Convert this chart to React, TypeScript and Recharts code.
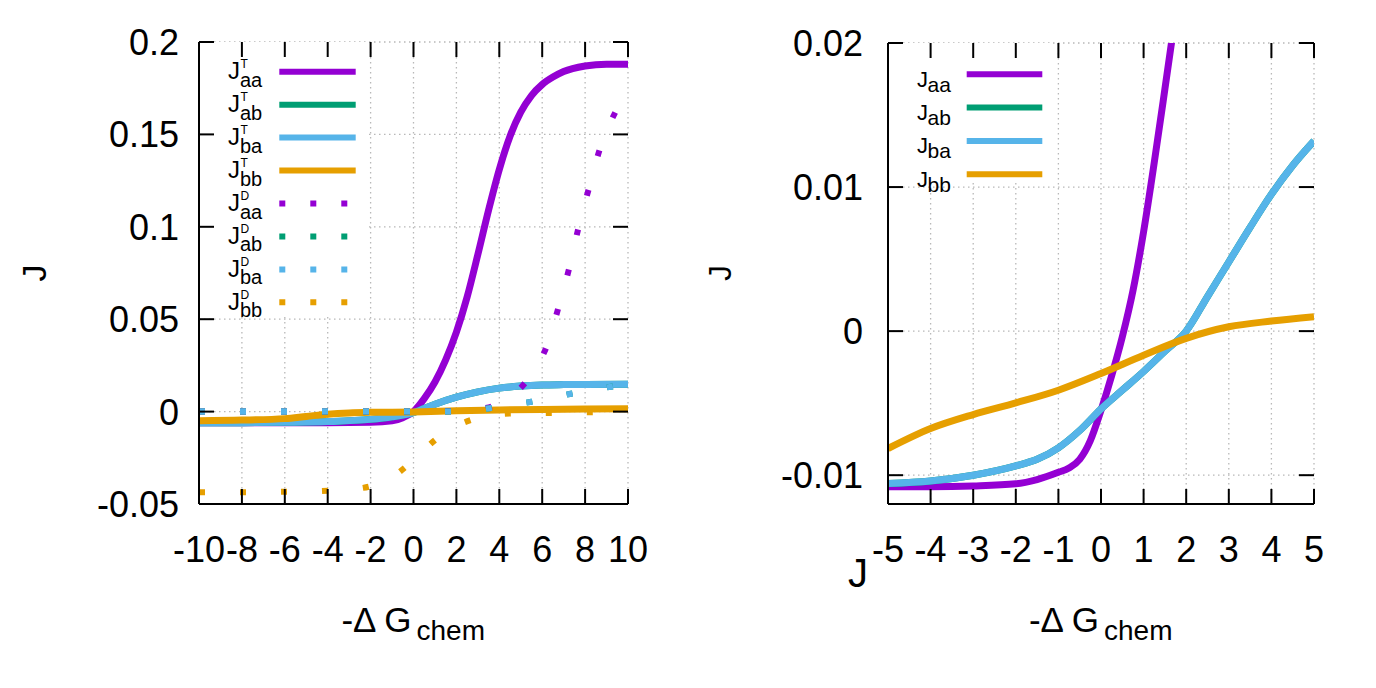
import React from "react";
import { LineChart, Line, XAxis, YAxis, CartesianGrid, ReferenceArea, ReferenceLine } from "recharts";

const FONT = '"Liberation Sans", Arial, Helvetica, sans-serif';
const PURPLE = "#9400d3";
const GREEN = "#009e73";
const BLUE = "#56b4e9";
const ORANGE = "#e69f00";

// ---------- left panel: total (T) and diffusive (D) fluxes
const leftXTicks = [-10, -8, -6, -4, -2, 0, 2, 4, 6, 8, 10];
const leftYTicks = [-0.05, 0, 0.05, 0.1, 0.15, 0.2];

const jaaTx = [-10, -8, -6, -4, -2, -1, -0.5, 0, 0.5, 1, 1.5, 2, 2.5, 3, 3.5, 4, 4.5, 5, 5.5, 6, 6.5, 7, 8, 9, 10];
const jaaTy = [-0.006, -0.006, -0.006, -0.006, -0.0058, -0.005, -0.0033, 0.0, 0.007, 0.016, 0.028, 0.043, 0.062, 0.085, 0.109, 0.131, 0.149, 0.162, 0.171, 0.177, 0.181, 0.184, 0.187, 0.188, 0.188];

const jbaTx = [-10, -8, -6, -4, -2, -1, 0, 1, 2, 3, 4, 5, 6, 7, 8, 10];
const jbaTy = [-0.006, -0.006, -0.0058, -0.0054, -0.0042, -0.0028, -0.0005, 0.004, 0.0078, 0.0107, 0.0127, 0.0138, 0.0144, 0.0146, 0.0147, 0.0148];

// J_ab^T lies under J_ba^T
const jabTx = [-10, -8, -6, -4, -2, -1, 0, 1, 2, 3, 4, 5, 6, 7, 8, 10];
const jabTy = [-0.006, -0.006, -0.0058, -0.0054, -0.0042, -0.0028, -0.0005, 0.004, 0.0078, 0.0107, 0.0127, 0.0138, 0.0144, 0.0146, 0.0147, 0.0148];

const jbbTx = [-10, -8, -6, -5, -4, -3, -2, 0, 2, 4, 6, 8, 10];
const jbbTy = [-0.0049, -0.0046, -0.0038, -0.0026, -0.0014, -0.0007, -0.0004, -0.0002, 0.0004, 0.0009, 0.0012, 0.0014, 0.0015];

const jaaDx = [-10, -6, -2, 0, 2, 3, 3.7, 4.5, 5.2, 5.7, 6.2, 6.75, 7.25, 7.68, 8.17, 8.69, 9.44, 10];
const jaaDy = [0, 0, 0, 0, 0.0003, 0.0012, 0.003, 0.008, 0.0155, 0.024, 0.035, 0.056, 0.0772, 0.0989, 0.1205, 0.1422, 0.1627, 0.174];

const jbaDx = [-10, -6, -2, 0, 1, 2, 3, 3.65, 4.5, 5.5, 6.5, 7.4, 8.3, 9.2, 10];
const jbaDy = [0, 0, 0, 0, 0, 0.0002, 0.001, 0.002, 0.0035, 0.0053, 0.0075, 0.0098, 0.0118, 0.0134, 0.0145];

const jabDx = [-10, -6, -2, 0, 1, 2, 3, 3.65, 4.5, 5.5, 6.5, 7.4, 8.3, 9.2, 10];
const jabDy = [0, 0, 0, 0, 0, 0.0002, 0.001, 0.002, 0.0035, 0.0053, 0.0075, 0.0098, 0.0118, 0.0134, 0.0145];

const jbbDx = [-10, -8, -6, -4, -3, -2, -1, -0.4, 0.3, 1.05, 1.8, 2.69, 3.5, 4.5, 6.5, 8.4, 10];
const jbbDy = [-0.0436, -0.0436, -0.0434, -0.0428, -0.0421, -0.0404, -0.0355, -0.0303, -0.0228, -0.015, -0.009, -0.0045, -0.0022, -0.001, -0.0007, -0.0003, 0.0];

// ---------- right panel
const rightXTicks = [-5, -4, -3, -2, -1, 0, 1, 2, 3, 4, 5];
const rightYTicks = [-0.01, 0, 0.01, 0.02];

const raaX = [-5, -4, -3, -2, -1.5, -1, -0.75, -0.5, -0.25, 0, 0.25, 0.5, 0.75, 1, 1.25, 1.5, 1.75, 2];
const raaY = [-0.0108, -0.0108, -0.01075, -0.0106, -0.0103, -0.0098, -0.0095, -0.0089, -0.0076, -0.0055, -0.0031, -0.0004, 0.0028, 0.0069, 0.0117, 0.0168, 0.022, 0.0272];

const rbaX = [-5, -4, -3, -2, -1.5, -1, -0.5, 0, 0.5, 1, 1.5, 2, 2.5, 3, 3.5, 4, 4.5, 5];
const rbaY = [-0.01058, -0.0104, -0.01, -0.00935, -0.0089, -0.0081, -0.0069, -0.0054, -0.0041, -0.0028, -0.0014, 0.0, 0.0024, 0.0048, 0.0072, 0.0095, 0.0115, 0.0132];

// J_ab lies under J_ba
const rabX = [-5, -4, -3, -2, -1.5, -1, -0.5, 0, 0.5, 1, 1.5, 2, 2.5, 3, 3.5, 4, 4.5, 5];
const rabY = [-0.01058, -0.0104, -0.01, -0.00935, -0.0089, -0.0081, -0.0069, -0.0054, -0.0041, -0.0028, -0.0014, 0.0, 0.0024, 0.0048, 0.0072, 0.0095, 0.0115, 0.0132];

const rbbX = [-5, -4, -3, -2, -1, 0, 1, 2, 3, 4, 5];
const rbbY = [-0.00815, -0.00676, -0.00579, -0.00498, -0.0041, -0.00294, -0.00167, -0.0005, 0.0003, 0.0007, 0.001];

// legend labels
const leftLegend = [
  { sup: "T", sub: "aa", color: PURPLE, dotted: false },
  { sup: "T", sub: "ab", color: GREEN, dotted: false },
  { sup: "T", sub: "ba", color: BLUE, dotted: false },
  { sup: "T", sub: "bb", color: ORANGE, dotted: false },
  { sup: "D", sub: "aa", color: PURPLE, dotted: true },
  { sup: "D", sub: "ab", color: GREEN, dotted: true },
  { sup: "D", sub: "ba", color: BLUE, dotted: true },
  { sup: "D", sub: "bb", color: ORANGE, dotted: true },
];
const rightLegend = [
  { sub: "aa", color: PURPLE },
  { sub: "ab", color: GREEN },
  { sub: "ba", color: BLUE },
  { sub: "bb", color: ORANGE },
];

const pts = (xs: number[], ys: number[]) => xs.map((x, i) => ({ x, y: ys[i] }));

const TICK = 15;
const axisLine = { stroke: "#000", strokeWidth: 2 };
const DOTS = "6 35";

const LEFT_X = [-10, 10];
const LEFT_Y = [-0.05, 0.2];
const RIGHT_X = [-5, 5];
const RIGHT_Y = [-0.012, 0.02];

// plot boxes (page pixels) the two charts are laid out to
const LEFT_BOX = { left: 199, top: 42, w: 429, h: 462 };
const RIGHT_BOX = { left: 888, top: 43, w: 426, h: 461 };

const BottomLabel = (p: any) => (
  <text x={p.x} y={p.y + 58} textAnchor="middle" fontSize={36} fontFamily={FONT} fill="#000">
    {String(p.payload.value)}
  </text>
);
const leftLabel = (gap: number) => (p: any) => (
  <text x={p.x - gap} y={p.y + 13} textAnchor="end" fontSize={36} fontFamily={FONT} fill="#000">
    {String(p.payload.value)}
  </text>
);

// gnuplot style y tics: pointing inwards on both sides
function yTics(yTicks: number[], xDom: number[], plotW: number) {
  const dx = ((xDom[1] - xDom[0]) * TICK) / plotW;
  const out: React.ReactNode[] = [];
  yTicks.forEach((t) => {
    out.push(<ReferenceLine key={"yl" + t} segment={[{ x: xDom[0], y: t }, { x: xDom[0] + dx, y: t }]} stroke="#000" strokeWidth={2} ifOverflow="visible" />);
    out.push(<ReferenceLine key={"yr" + t} segment={[{ x: xDom[1], y: t }, { x: xDom[1] - dx, y: t }]} stroke="#000" strokeWidth={2} ifOverflow="visible" />);
  });
  return out;
}

// x tics drawn along the bottom and top border of a plot box
function xTics(prefix: string, ticks: number[], dom: number[], box: { left: number; top: number; w: number; h: number }) {
  return ticks.map((t) => {
    const px = box.left + ((t - dom[0]) / (dom[1] - dom[0])) * box.w;
    const bottom = box.top + box.h;
    return (
      <g key={prefix + t}>
        <line x1={px} x2={px} y1={bottom} y2={bottom - TICK} stroke="#000" strokeWidth={2} />
        <line x1={px} x2={px} y1={box.top} y2={box.top + TICK} stroke="#000" strokeWidth={2} />
      </g>
    );
  });
}

const gridProps = { stroke: "#b8b8b8", strokeDasharray: "1.5 3.5", strokeWidth: 1.3 };

const common = {
  type: "number" as const,
  interval: 0 as const,
  allowDataOverflow: true,
  tickSize: 0,
  tickMargin: 0,
  tickLine: false,
  axisLine,
};

export default function App() {
  return (
    <div style={{ position: "absolute", left: 0, top: 0, width: 1376, height: 688, background: "#fff" }}>
      <div style={{ position: "absolute", left: 0, top: 0 }}>
        <LineChart width={700} height={688} margin={{ top: LEFT_BOX.top, right: 700 - LEFT_BOX.left - LEFT_BOX.w, bottom: 0, left: 0 }}>
          <CartesianGrid {...gridProps} />
          <ReferenceArea x1={-10} x2={-2.2} y1={0.052} y2={0.2} fill="#fff" fillOpacity={1} stroke="none" />
          <Line data={pts(jaaTx, jaaTy)} dataKey="y" type="monotone" stroke={PURPLE} strokeWidth={7} dot={false} activeDot={false} isAnimationActive={false} />
          <Line data={pts(jabTx, jabTy)} dataKey="y" type="monotone" stroke={GREEN} strokeWidth={7} dot={false} activeDot={false} isAnimationActive={false} />
          <Line data={pts(jbaTx, jbaTy)} dataKey="y" type="monotone" stroke={BLUE} strokeWidth={7} dot={false} activeDot={false} isAnimationActive={false} />
          <Line data={pts(jbbTx, jbbTy)} dataKey="y" type="monotone" stroke={ORANGE} strokeWidth={7} dot={false} activeDot={false} isAnimationActive={false} />
          <Line data={pts(jaaDx, jaaDy)} dataKey="y" type="monotone" stroke={PURPLE} strokeWidth={6} strokeDasharray={DOTS} dot={false} activeDot={false} isAnimationActive={false} />
          <Line data={pts(jabDx, jabDy)} dataKey="y" type="monotone" stroke={GREEN} strokeWidth={6} strokeDasharray={DOTS} dot={false} activeDot={false} isAnimationActive={false} />
          <Line data={pts(jbaDx, jbaDy)} dataKey="y" type="monotone" stroke={BLUE} strokeWidth={6} strokeDasharray={DOTS} dot={false} activeDot={false} isAnimationActive={false} />
          <Line data={pts(jbbDx, jbbDy)} dataKey="y" type="monotone" stroke={ORANGE} strokeWidth={6} strokeDasharray={DOTS} dot={false} activeDot={false} isAnimationActive={false} />
          {yTics(leftYTicks, LEFT_X, LEFT_BOX.w)}
          <XAxis {...common} dataKey="x" domain={LEFT_X} ticks={leftXTicks} height={688 - LEFT_BOX.top - LEFT_BOX.h} tick={BottomLabel} />
          <XAxis {...common} xAxisId="top" orientation="top" domain={LEFT_X} ticks={leftXTicks} height={0} tick={false} />
          <YAxis {...common} domain={LEFT_Y} ticks={leftYTicks} width={LEFT_BOX.left} tick={leftLabel(20)} />
          <YAxis {...common} yAxisId="right" orientation="right" domain={LEFT_Y} ticks={leftYTicks} width={0} tick={false} />
        </LineChart>
      </div>

      <div style={{ position: "absolute", left: 700, top: 0 }}>
        <LineChart width={676} height={688} margin={{ top: RIGHT_BOX.top, right: 1376 - RIGHT_BOX.left - RIGHT_BOX.w, bottom: 0, left: 0 }}>
          <CartesianGrid {...gridProps} />
          <ReferenceArea x1={-5} x2={-1.15} y1={0.0103} y2={0.02} fill="#fff" fillOpacity={1} stroke="none" />
          <Line data={pts(raaX, raaY)} dataKey="y" type="monotone" stroke={PURPLE} strokeWidth={7} dot={false} activeDot={false} isAnimationActive={false} />
          <Line data={pts(rabX, rabY)} dataKey="y" type="monotone" stroke={GREEN} strokeWidth={7} dot={false} activeDot={false} isAnimationActive={false} />
          <Line data={pts(rbaX, rbaY)} dataKey="y" type="monotone" stroke={BLUE} strokeWidth={7} dot={false} activeDot={false} isAnimationActive={false} />
          <Line data={pts(rbbX, rbbY)} dataKey="y" type="monotone" stroke={ORANGE} strokeWidth={7} dot={false} activeDot={false} isAnimationActive={false} />
          {yTics(rightYTicks, RIGHT_X, RIGHT_BOX.w)}
          <XAxis {...common} dataKey="x" domain={RIGHT_X} ticks={rightXTicks} height={688 - RIGHT_BOX.top - RIGHT_BOX.h} tick={BottomLabel} />
          <XAxis {...common} xAxisId="top" orientation="top" domain={RIGHT_X} ticks={rightXTicks} height={0} tick={false} />
          <YAxis {...common} domain={RIGHT_Y} ticks={rightYTicks} width={RIGHT_BOX.left - 700} tick={leftLabel(25)} />
          <YAxis {...common} yAxisId="right" orientation="right" domain={RIGHT_Y} ticks={rightYTicks} width={0} tick={false} />
        </LineChart>
      </div>

      {/* x tics, legends and axis titles */}
      <svg width={1376} height={688} style={{ position: "absolute", left: 0, top: 0, pointerEvents: "none" }} fontFamily={FONT}>
        {xTics("l", leftXTicks, LEFT_X, LEFT_BOX)}
        {xTics("r", rightXTicks, RIGHT_X, RIGHT_BOX)}

        {leftLegend.map((e, i) => {
          const ly = 71.7 + 32.95 * i;
          return (
            <g key={"l" + i}>
              <text x={240} y={ly + 7.6} fontSize={24} textAnchor="end">J</text>
              <text x={240.5} y={ly - 3.4} fontSize={12}>{e.sup}</text>
              <text x={240} y={ly + 15} fontSize={20}>{e.sub}</text>
              <line x1={279.3} x2={355.7} y1={ly} y2={ly} stroke={e.color} strokeWidth={6}
                strokeDasharray={e.dotted ? "6 25" : undefined} />
            </g>
          );
        })}
        {rightLegend.map((e, i) => {
          const ly = 74.3 + 33.3 * i;
          return (
            <g key={"r" + i}>
              <text x={928} y={ly + 12.4} fontSize={22} textAnchor="end">J</text>
              <text x={927.5} y={ly + 17.4} fontSize={21}>{e.sub}</text>
              <line x1={966.7} x2={1042.3} y1={ly} y2={ly} stroke={e.color} strokeWidth={6} />
            </g>
          );
        })}

        <text transform="translate(46,273) rotate(-90)" textAnchor="middle" fontSize={34}>J</text>
        <text transform="translate(731,273) rotate(-90)" textAnchor="middle" fontSize={32}>J</text>
        <text x={848} y={587} fontSize={40}>J</text>

        <text x={413.5 - 2} y={632} fontSize={35} textAnchor="end">-Δ G</text>
        <text x={413.5 + 3} y={640} fontSize={28}>chem</text>
        <text x={1101 - 2} y={632} fontSize={35} textAnchor="end">-Δ G</text>
        <text x={1101 + 3} y={640} fontSize={28}>chem</text>
      </svg>
    </div>
  );
}
